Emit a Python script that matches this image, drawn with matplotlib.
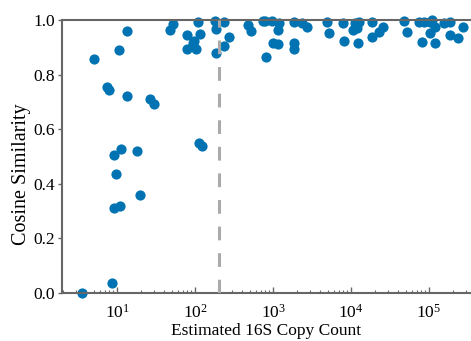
import matplotlib
matplotlib.use("Agg")
import matplotlib.pyplot as plt
from matplotlib.ticker import LogLocator, NullFormatter

plt.rcParams['font.family'] = ['Liberation Serif', 'DejaVu Serif']
plt.rcParams['mathtext.fontset'] = 'stix'

# Estimated copy count vs cosine similarity
copy_count = [
    3.56, 8.55, 9.7, 9.24, 10.9, 19.7, 5.07, 10.5, 7.44, 7.97, 13.3, 26.7, 30.1,
    11.1, 9.07, 17.9, 13.3, 113.5, 122,
    47.9, 51.8, 108, 78, 97, 95, 79.5, 103, 117, 186, 186, 180, 235, 235, 275,
    483, 518, 751, 800, 963, 1205, 1170, 1009, 1170, 813, 1860, 2330, 2700,
    1860, 1860, 4880, 5270, 7950, 11260, 10500, 11950, 12800, 8200, 12200,
    18400, 18400, 22860, 25700, 47900, 51800, 74300, 103000, 119000, 103000,
    80600, 119000, 186000, 186000, 237000, 275000, 108000, 85000, 155000,
]
cosine_sim = [
    0.0, 0.038, 0.437, 0.310, 0.320, 0.359, 0.857, 0.889, 0.755, 0.744, 0.722,
    0.711, 0.692, 0.526, 0.505, 0.520, 0.961, 0.551, 0.540,
    0.963, 0.985, 0.994, 0.945, 0.924, 0.915, 0.893, 0.893, 0.949, 0.967, 0.878,
    0.998, 0.993, 0.906, 0.939, 0.982, 0.960, 0.998, 0.996, 0.998, 0.988, 0.963,
    0.917, 0.911, 0.866, 0.994, 0.990, 0.973, 0.915, 0.894, 0.994, 0.951,
    0.988, 0.988, 0.963, 0.970, 0.994, 0.924, 0.917, 0.994, 0.939, 0.957,
    0.974, 0.998, 0.955, 0.994, 0.994, 0.976, 0.951, 0.920, 0.915, 0.994,
    0.945, 0.933, 0.974, 1.0, 0.992, 0.988,
]
threshold = 200

fig = plt.figure(figsize=(4.71, 3.41), dpi=100)
ax = fig.add_axes([62 / 471, 48 / 341, 409 / 471, 273 / 341])

ax.scatter(copy_count, cosine_sim, s=54, color='#0173b2', linewidths=0,
           zorder=2, clip_on=False)
ax.axvline(threshold, color='#aaaaaa', lw=2.2, dashes=(4.5, 4.2), zorder=3)

ax.set_xscale('log')
ax.set_xlim(1.97, 3.45e5)
ax.set_ylim(0, 1.0)
ax.set_yticks([0, 0.2, 0.4, 0.6, 0.8, 1.0])
ax.xaxis.set_minor_locator(LogLocator(base=10, subs=range(2, 10), numticks=20))
ax.xaxis.set_minor_formatter(NullFormatter())

for side in ['left', 'top', 'bottom']:
    ax.spines[side].set_color('#666666')
    ax.spines[side].set_linewidth(1.5)
ax.spines['right'].set_visible(False)

ax.tick_params(axis='x', which='major', direction='in', length=4, width=1,
               color='#666666', labelsize=12.5, pad=8)
ax.tick_params(axis='x', which='minor', direction='in', length=2.5, width=0.8,
               color='#666666')
ax.tick_params(axis='y', direction='out', length=3, width=1,
               color='#666666', labelsize=12.5, pad=2)

ax.set_xlabel('Estimated 16S Copy Count', fontsize=12.5, labelpad=1)
ax.set_ylabel('Cosine Similarity', fontsize=14.5)
ax.yaxis.set_label_coords(-0.077, 0.436)

fig.savefig('out.png', dpi=100)
